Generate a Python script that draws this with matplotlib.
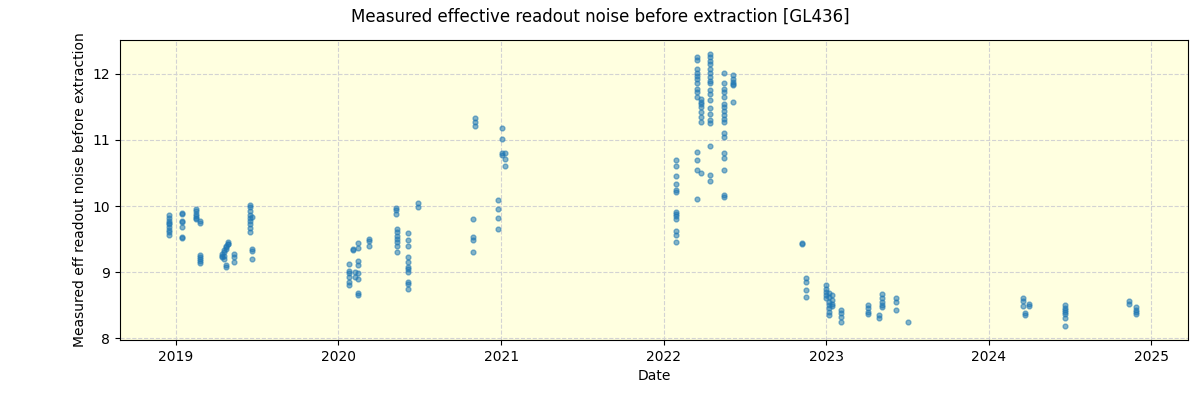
import matplotlib
matplotlib.use('Agg')
import matplotlib.pyplot as plt
import matplotlib.dates as mdates
import pandas as pd

# observation epochs and the noise values measured on each
epochs = [
    '2018-12-18', '2019-01-15', '2019-02-15', '2019-02-24', '2019-02-25',
    '2019-04-16', '2019-04-20', '2019-04-24', '2019-04-29', '2019-05-13',
    '2019-06-16', '2019-06-22',
    '2020-01-26', '2020-02-04', '2020-02-08', '2020-02-15', '2020-03-10',
    '2020-05-09', '2020-05-13', '2020-06-07', '2020-06-29', '2020-10-31',
    '2020-11-04', '2020-12-26', '2021-01-04', '2021-01-09',
    '2022-01-30', '2022-03-16', '2022-03-25', '2022-04-16', '2022-05-17',
    '2022-06-07', '2022-11-08', '2022-11-17',
    '2023-01-01', '2023-01-08', '2023-01-15', '2023-02-04', '2023-04-05',
    '2023-04-29', '2023-05-06', '2023-06-06', '2023-07-03',
    '2024-03-18', '2024-03-23', '2024-04-01', '2024-06-21', '2024-11-11',
    '2024-11-27',
]
noise = [
    [9.86, 9.82, 9.78, 9.75, 9.72, 9.68, 9.64, 9.60, 9.56],
    [9.89, 9.88, 9.78, 9.76, 9.68, 9.53, 9.52],
    [9.95, 9.92, 9.88, 9.85, 9.82, 9.80],
    [9.78, 9.75],
    [9.26, 9.22, 9.19, 9.16, 9.13],
    [9.22, 9.25, 9.28],
    [9.30, 9.33, 9.25, 9.20],
    [9.38, 9.40, 9.35, 9.07, 9.10],
    [9.43, 9.45, 9.42],
    [9.28, 9.22, 9.15],
    [10.02, 9.98, 9.93, 9.87, 9.82, 9.78, 9.72, 9.67, 9.60],
    [9.83, 9.35, 9.32, 9.20],
    [9.12, 9.02, 8.98, 8.92, 8.85, 8.80],
    [9.33, 9.35],
    [9.00, 8.92],
    [9.44, 9.37, 9.17, 9.10, 8.98, 8.90, 8.68, 8.65],
    [9.50, 9.47, 9.40],
    [9.97, 9.94, 9.88],
    [9.65, 9.60, 9.55, 9.50, 9.45, 9.40, 9.31],
    [9.59, 9.48, 9.40, 9.23, 9.15, 9.08, 9.04, 9.00, 8.85, 8.82, 8.74],
    [10.04, 9.98],
    [9.80, 9.53, 9.48, 9.30],
    [11.34, 11.27, 11.21],
    [10.09, 9.95, 9.82, 9.65],
    [11.18, 11.02, 10.80, 10.78],
    [10.80, 10.71, 10.61],
    [10.70, 10.60, 10.45, 10.33, 10.25, 10.21, 9.91, 9.88, 9.85, 9.80,
     9.62, 9.56, 9.45],
    [12.26, 12.21, 12.07, 12.02, 11.97, 11.92, 11.86, 11.78, 11.72, 11.65,
     10.82, 10.70, 10.55, 10.10],
    [11.62, 11.58, 11.55, 11.50, 11.42, 11.35, 11.28, 10.50],
    [12.30, 12.25, 12.20, 12.15, 12.08, 12.02, 11.95, 11.90, 11.86, 11.76,
     11.70, 11.60, 11.48, 11.40, 11.30, 11.25, 10.91, 10.47, 10.38],
    [12.01, 11.86, 11.78, 11.72, 11.65, 11.55, 11.50, 11.44, 11.38, 11.32,
     11.28, 11.10, 11.05, 10.80, 10.72, 10.55, 10.17, 10.14],
    [11.98, 11.93, 11.88, 11.85, 11.83, 11.58],
    [9.44, 9.42],
    [8.91, 8.85, 8.73, 8.62],
    [8.80, 8.75, 8.70, 8.65, 8.60],
    [8.68, 8.62, 8.55, 8.50, 8.45, 8.40, 8.35],
    [8.65, 8.58, 8.52, 8.48],
    [8.42, 8.38, 8.32, 8.25],
    [8.50, 8.45, 8.40, 8.36],
    [8.35, 8.30],
    [8.67, 8.60, 8.55, 8.50, 8.47],
    [8.60, 8.55, 8.42],
    [8.24],
    [8.61, 8.56, 8.48],
    [8.38, 8.35],
    [8.52, 8.48],
    [8.50, 8.45, 8.42, 8.40, 8.36, 8.30, 8.18],
    [8.56, 8.52],
    [8.47, 8.43, 8.40, 8.37],
]


def main():
    rows = [(d, v) for d, vals in zip(epochs, noise) for v in vals]
    df = pd.DataFrame(rows, columns=['date', 'noise'])
    df['date'] = pd.to_datetime(df['date'])

    fig = plt.figure(figsize=(12, 4), dpi=100)
    ax = fig.add_axes([0.1, 0.15, 0.89, 0.75])
    ax.set_facecolor('lightyellow')
    ax.scatter(df['date'], df['noise'], s=12, color='tab:blue', alpha=0.55)

    ax.grid(True, linestyle='--', color='lightgray')
    ax.set_axisbelow(True)
    ax.set_xlim(pd.Timestamp('2018-08-29'), pd.Timestamp('2025-03-24'))
    ax.set_ylim(7.97, 12.515)
    ax.xaxis.set_major_locator(mdates.YearLocator())
    ax.xaxis.set_major_formatter(mdates.DateFormatter('%Y'))

    ax.set_xlabel('Date')
    ax.set_ylabel('Measured eff readout noise before extraction')
    fig.suptitle('Measured effective readout noise before extraction [GL436]')

    fig.savefig('out.png')


if __name__ == '__main__':
    main()
